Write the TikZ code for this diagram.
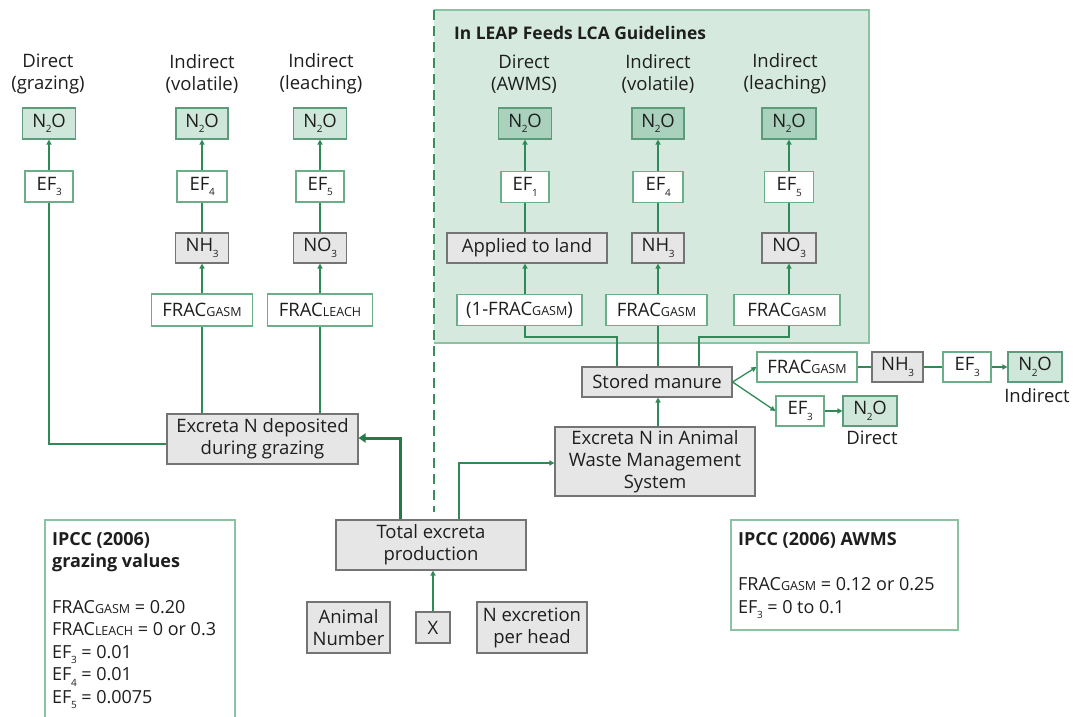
\documentclass[tikz,border=0pt]{standalone}
\usepackage{fontspec}
\setmainfont{Open Sans}
\usetikzlibrary{arrows.meta}

\definecolor{lineg}{HTML}{2F8A57}
\definecolor{boxg}{HTML}{6CAE88}
\definecolor{nofill}{HTML}{CFE6DA}
\definecolor{noborder}{HTML}{5C9C7A}
\definecolor{nodark}{HTML}{A9D1BB}
\definecolor{grayfill}{HTML}{E6E6E6}
\definecolor{grayborder}{HTML}{747474}
\definecolor{regionfill}{HTML}{D5E9DE}
\definecolor{regionborder}{HTML}{8AC2A2}
\definecolor{dashcol}{HTML}{3C8C5C}
\definecolor{thickg}{HTML}{1F7D45}
\definecolor{txt}{HTML}{1E1E1E}

% low subscript digit and small-capital subscript words
\newcommand\lo[1]{\kern-0.3pt\relax\raisebox{-0.55ex}{\fontsize{10}{10}\selectfont #1}\kern-0.3pt\relax}
\newcommand\smc[1]{{\fontsize{12.5}{12.5}\selectfont #1}}

\tikzset{
  base/.style={inner sep=0pt, align=center, text=txt, font=\fontsize{18.5}{22}\selectfont},
  wbox/.style={base, draw=boxg, fill=white, line width=1.1pt},
  gbox/.style={base, draw=grayborder, fill=grayfill, line width=1.1pt},
  nbox/.style={base, draw=noborder, fill=nofill, line width=1.1pt},
  ndbox/.style={base, draw=noborder, fill=nodark, line width=1.1pt},
  lbl/.style={base},
  conn/.style={draw=lineg, line width=1.3pt},
  arr/.style={conn, -{Triangle[length=5pt,width=5pt]}},
}

\begin{document}
\begin{tikzpicture}[x=1pt,y=-1pt]
\useasboundingbox (0,0) rectangle (1079,717);
\fill[white] (0,0) rectangle (1079,717);

% shaded LEAP region
\fill[regionfill] (434,10) rectangle (869,343);
\draw[regionborder, line width=1.2pt] (434,10) -- (869,10) -- (869,343) -- (434,343);
\draw[dashcol, line width=1.3pt, dash pattern=on 10pt off 6pt] (434,10) -- (434,512);
\node[lbl, anchor=west, font=\fontsize{17.4}{20}\selectfont\bfseries] (title) at (454,33) {In LEAP Feeds LCA Guidelines};

% grazing branch
\node[lbl] (hA) at (48,74) {Direct\\(grazing)};
\node[nbox, minimum width=53, minimum height=31] (n2oA) at (49,123.5) {N\lo{2}O};
\node[wbox, minimum width=48, minimum height=31] (ef3A) at (49,186.5) {EF\lo{3}};

\node[lbl] (hB) at (202,74) {Indirect\\(volatile)};
\node[nbox, minimum width=52, minimum height=31] (n2oB) at (202,123.5) {N\lo{2}O};
\node[wbox, minimum width=50, minimum height=31] (ef4B) at (202,186.5) {EF\lo{4}};
\node[gbox, minimum width=53, minimum height=30] (nh3B) at (202,248) {NH\lo{3}};
\node[wbox, minimum width=101, minimum height=32] (fracB) at (202,310) {FRAC\smc{GASM}};

\node[lbl] (hC) at (321,74) {Indirect\\(leaching)};
\node[nbox, minimum width=53, minimum height=31] (n2oC) at (320,123.5) {N\lo{2}O};
\node[wbox, minimum width=48, minimum height=31] (ef5C) at (320,186.5) {EF\lo{5}};
\node[gbox, minimum width=53, minimum height=30] (no3C) at (320,248) {NO\lo{3}};
\node[wbox, minimum width=105, minimum height=32] (fracC) at (320,310) {FRAC\smc{LEACH}};

\node[gbox, minimum width=191, minimum height=50] (graze) at (262.5,439) {Excreta N deposited\\during grazing};

\draw[arr] (ef3A.north) -- (n2oA.south);
\draw[arr] (ef4B.north) -- (n2oB.south);
\draw[conn] (nh3B.north) -- (ef4B.south);
\draw[arr] (fracB.north) -- (nh3B.south);
\draw[arr] (ef5C.north) -- (n2oC.south);
\draw[conn] (no3C.north) -- (ef5C.south);
\draw[arr] (fracC.north) -- (no3C.south);
\draw[conn] (graze.north -| fracB.south) -- (fracB.south);
\draw[conn] (graze.north -| fracC.south) -- (fracC.south);
\draw[conn] ([yshift=-5pt]graze.west) -| (ef3A.south);

% LEAP branch
\node[lbl] (hD) at (524,74) {Direct\\(AWMS)};
\node[ndbox, minimum width=53, minimum height=31] (n2oD) at (525,123.5) {N\lo{2}O};
\node[wbox, minimum width=48, minimum height=31] (ef1D) at (525,187) {EF\lo{1}};
\node[gbox, minimum width=160, minimum height=30] (applied) at (527,248) {Applied to land};
\node[wbox, minimum width=125, minimum height=31] (frac1m) at (519.5,310) {(1-FRAC\smc{GASM})};

\node[lbl] (hE) at (658,74) {Indirect\\(volatile)};
\node[ndbox, minimum width=52, minimum height=31] (n2oE) at (658,123.5) {N\lo{2}O};
\node[wbox, minimum width=50, minimum height=31] (ef4E) at (658,187) {EF\lo{4}};
\node[gbox, minimum width=52, minimum height=30] (nh3E) at (658,248) {NH\lo{3}};
\node[wbox, minimum width=101, minimum height=31] (fracE) at (656.5,310) {FRAC\smc{GASM}};

\node[lbl] (hF) at (785,74) {Indirect\\(leaching)};
\node[ndbox, minimum width=54, minimum height=31] (n2oF) at (789,123.5) {N\lo{2}O};
\node[wbox, minimum width=49, minimum height=31] (ef5F) at (789,187) {EF\lo{5}};
\node[gbox, minimum width=54, minimum height=30] (no3F) at (789,248) {NO\lo{3}};
\node[wbox, minimum width=106, minimum height=31] (fracF) at (787,310) {FRAC\smc{GASM}};

\draw[arr] (ef1D.north) -- (n2oD.south);
\draw[conn] (applied.north -| ef1D.south) -- (ef1D.south);
\draw[arr] (frac1m.north -| ef1D.south) -- (applied.south -| ef1D.south);
\draw[arr] (ef4E.north) -- (n2oE.south);
\draw[conn] (nh3E.north) -- (ef4E.south);
\draw[arr] (fracE.north -| nh3E.south) -- (nh3E.south);
\draw[arr] (ef5F.north) -- (n2oF.south);
\draw[conn] (no3F.north) -- (ef5F.south);
\draw[arr] (fracF.north -| no3F.south) -- (no3F.south);

% storage
\node[gbox, minimum width=150, minimum height=30] (stored) at (657,382) {Stored manure};
\node[gbox, minimum width=200, minimum height=69] (awms) at (655,461.5) {Excreta N in Animal\\Waste Management\\System};
\coordinate (c1) at (617,337);
\coordinate (c3) at (699,337);
\draw[conn] (frac1m.south -| ef1D.south) |- (c1) -- (stored.north -| c1);
\draw[conn] (fracE.south -| nh3E.south) -- (stored.north -| nh3E.south);
\draw[conn] (fracF.south -| no3F.south) |- (c3) -- (stored.north -| c3);
\draw[arr] (awms.north -| nh3E.south) -- (stored.south -| nh3E.south);

% storage emissions
\node[wbox, minimum width=100, minimum height=30] (fracG) at (807,367) {FRAC\smc{GASM}};
\node[gbox, minimum width=51, minimum height=30] (nh3G) at (897.5,367) {NH\lo{3}};
\node[wbox, minimum width=48, minimum height=30] (ef3G) at (967,367) {EF\lo{3}};
\node[nbox, minimum width=54, minimum height=30] (n2oG) at (1035,367) {N\lo{2}O};
\node[lbl] (indG) at (1037,396) {Indirect};
\node[wbox, minimum width=48, minimum height=30] (ef3H) at (800,411) {EF\lo{3}};
\node[nbox, minimum width=54, minimum height=30] (n2oH) at (870,411) {N\lo{2}O};
\node[lbl] (dirH) at (872,438) {Direct};

\draw[arr] (stored.east) -- (fracG.west);
\draw[arr] (stored.east) -- (ef3H.west);
\draw[conn] (fracG.east) -- (nh3G.west);
\draw[conn] (nh3G.east) -- (ef3G.west);
\draw[arr] (ef3G.east) -- (n2oG.west);
\draw[arr] (ef3H.east) -- (n2oH.west);

% total excreta
\node[gbox, minimum width=190, minimum height=50] (total) at (431,545) {Total excreta\\production};
\node[gbox, minimum width=34, minimum height=31] (xbox) at (433,627.5) {X};
\node[gbox, minimum width=83, minimum height=51] (animal) at (348.5,627.5) {Animal\\Number};
\node[gbox, minimum width=110, minimum height=51] (nexc) at (532,627.5) {N excretion\\per head};
\draw[arr] (xbox.north) -- (total.south -| xbox.north);
\coordinate (t1) at (400,438);
\draw[draw=thickg, line width=3pt, -{Triangle[length=7pt,width=9pt]}] (total.north -| t1) -- (t1) -- (graze.east |- t1);
\coordinate (t2) at (459,463);
\draw[arr] (total.north -| t2) -- (t2) -- (awms.west |- t2);

% value boxes
\draw[regionborder, line width=1.2pt] (45,718) -- (45,520) -- (235,520) -- (235,718);
\node[lbl, anchor=north west, align=left, font=\fontsize{18}{22.6}\selectfont] (gvals) at (52,532)
  {\textbf{IPCC (2006)}\\\textbf{grazing values}\\[22.6pt]
   FRAC\smc{GASM} = 0.20\\FRAC\smc{LEACH} = 0 or 0.3\\EF\lo{3} = 0.01\\EF\lo{4} = 0.01\\EF\lo{5} = 0.0075};

\draw[regionborder, line width=1.2pt] (731,520) rectangle (958,630);
\node[lbl, anchor=north west, align=left, font=\fontsize{18}{22.6}\selectfont] (avals) at (738,532)
  {\textbf{IPCC (2006) AWMS}\\[22.6pt]
   FRAC\smc{GASM} = 0.12 or 0.25\\EF\lo{3} = 0 to 0.1};
\end{tikzpicture}
\end{document}
